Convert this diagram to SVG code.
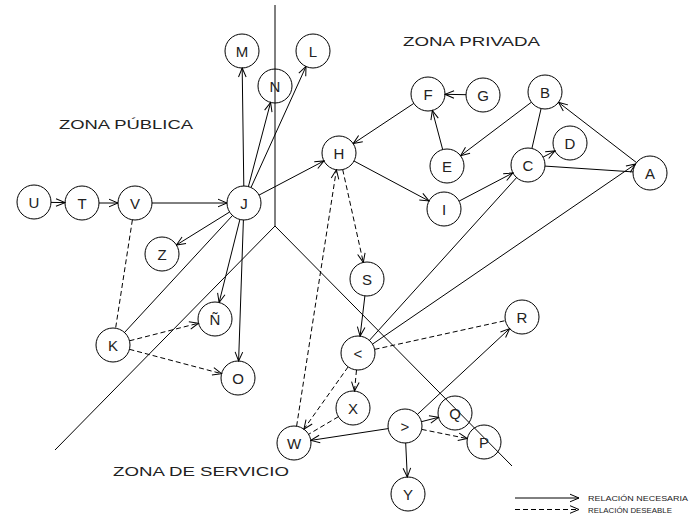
<svg xmlns="http://www.w3.org/2000/svg" width="691" height="517" viewBox="0 0 691 517">
<style>
.n circle{fill:none;stroke:#000;stroke-width:1}
.n text{font-family:"Liberation Sans",Arial,sans-serif;font-size:15px;fill:#222;text-anchor:middle}
.e line{stroke:#000;stroke-width:1;fill:none}
.e .d{stroke-dasharray:5,3}
.e .a{marker-end:url(#arr)}
.zone{stroke:#000;stroke-width:1;fill:none}
.z{font-family:"Liberation Sans",Arial,sans-serif;font-size:13px;fill:#222}
.lg{font-family:"Liberation Sans",Arial,sans-serif;font-size:8px;fill:#222}
</style>
<defs>
<marker id="arr" markerUnits="userSpaceOnUse" viewBox="-11 -6 12 12" markerWidth="12" markerHeight="12" refX="0" refY="0" orient="auto">
<path d="M-9,-3.8 L0,0 L-9,3.8" fill="none" stroke="#000" stroke-width="1" stroke-dasharray="none"/>
</marker>
</defs>
<rect width="691" height="517" fill="#fff"/>
<g id="zones">
<polyline class="zone" points="275,5 275,226 55,450"/>
<line class="zone" x1="275" y1="226" x2="512" y2="466"/>
<text class="z" x="403" y="46" textLength="137" lengthAdjust="spacingAndGlyphs">ZONA PRIVADA</text>
<text class="z" x="59" y="129" textLength="134" lengthAdjust="spacingAndGlyphs">ZONA PÚBLICA</text>
<text class="z" x="113" y="476" textLength="176" lengthAdjust="spacingAndGlyphs">ZONA DE SERVICIO</text>
</g>
<g id="connectors" class="e">
<line class="a" x1="51" y1="202.4" x2="65" y2="202.6"/>
<line class="a" x1="99" y1="203" x2="118" y2="203"/>
<line class="a" x1="152" y1="203" x2="227" y2="203"/>
<line class="a" x1="243.8" y1="186" x2="242.2" y2="68"/>
<line class="a" x1="248.4" y1="186.6" x2="270.6" y2="102.4"/>
<line class="a" x1="251" y1="187.5" x2="306" y2="66.5"/>
<line class="a" x1="259" y1="195.1" x2="324" y2="160.9"/>
<line class="a" x1="229.6" y1="212" x2="176.4" y2="245"/>
<line class="a" x1="239.9" y1="219.5" x2="219.1" y2="302.5"/>
<line class="a" x1="243.4" y1="220" x2="238.6" y2="361"/>
<line x1="232.5" y1="215.5" x2="124.5" y2="332.5"/>
<line class="d" x1="132.4" y1="219.8" x2="115.6" y2="328.2"/>
<line class="d a" x1="129.5" y1="340.8" x2="198.5" y2="323.2"/>
<line class="d a" x1="129.4" y1="349.3" x2="221.6" y2="373.7"/>
<line class="a" x1="413.8" y1="103.4" x2="353.2" y2="143.6"/>
<line class="a" x1="466" y1="94.7" x2="445" y2="94.3"/>
<line class="a" x1="442.7" y1="149.6" x2="432.3" y2="110.4"/>
<line class="a" x1="531.4" y1="102.2" x2="460.6" y2="155.7"/>
<line x1="541.1" y1="108.5" x2="531.9" y2="148.5"/>
<line class="a" x1="543.1" y1="157.1" x2="554.9" y2="150.9"/>
<line x1="545" y1="166.1" x2="633" y2="171.9"/>
<line class="a" x1="636.5" y1="162.6" x2="558.5" y2="102.4"/>
<line class="a" x1="354" y1="161" x2="429" y2="201"/>
<line class="a" x1="459.1" y1="201.1" x2="512.9" y2="172.9"/>
<line x1="369.4" y1="340.4" x2="516.6" y2="177.6"/>
<line class="a" x1="372.5" y1="344.1" x2="635.5" y2="164.1"/>
<line class="d a" x1="342.7" y1="169.6" x2="363.3" y2="262.4"/>
<line class="d a" x1="296.6" y1="426.2" x2="336.4" y2="169.8"/>
<line class="a" x1="364.9" y1="295.9" x2="360.1" y2="336.1"/>
<line class="d a" x1="356.5" y1="370" x2="354.5" y2="391"/>
<line class="d a" x1="348.1" y1="366.9" x2="303.9" y2="429.1"/>
<line class="d" x1="338.4" y1="416.7" x2="308.6" y2="434.3"/>
<line class="d" x1="374.6" y1="349.4" x2="505.4" y2="320.6"/>
<line class="a" x1="417.4" y1="414.4" x2="509.6" y2="328.6"/>
<line class="a" x1="421.4" y1="421.7" x2="438.6" y2="417.3"/>
<line class="d a" x1="421.7" y1="429.4" x2="467.3" y2="438.6"/>
<line class="a" x1="388.2" y1="428.6" x2="310.8" y2="440.4"/>
<line class="a" x1="405.7" y1="443" x2="407.3" y2="477"/>
</g>
<g id="node-M" class="n"><circle cx="242" cy="51" r="17"/><text x="242" y="56.5">M</text></g>
<g id="node-N" class="n"><circle cx="275" cy="86" r="17"/><text x="275" y="91.5">N</text></g>
<g id="node-L" class="n"><circle cx="313" cy="51" r="17"/><text x="313" y="56.5">L</text></g>
<g id="node-H" class="n"><circle cx="339" cy="153" r="17"/><text x="339" y="158.5">H</text></g>
<g id="node-J" class="n"><circle cx="244" cy="203" r="17"/><text x="244" y="208.5">J</text></g>
<g id="node-F" class="n"><circle cx="428" cy="94" r="17"/><text x="428" y="99.5">F</text></g>
<g id="node-G" class="n"><circle cx="483" cy="95" r="17"/><text x="483" y="100.5">G</text></g>
<g id="node-B" class="n"><circle cx="545" cy="92" r="17"/><text x="545" y="97.5">B</text></g>
<g id="node-E" class="n"><circle cx="447" cy="166" r="17"/><text x="447" y="171.5">E</text></g>
<g id="node-D" class="n"><circle cx="570" cy="143" r="17"/><text x="570" y="148.5">D</text></g>
<g id="node-C" class="n"><circle cx="528" cy="165" r="17"/><text x="528" y="170.5">C</text></g>
<g id="node-A" class="n"><circle cx="650" cy="173" r="17"/><text x="650" y="178.5">A</text></g>
<g id="node-I" class="n"><circle cx="444" cy="209" r="17"/><text x="444" y="214.5">I</text></g>
<g id="node-U" class="n"><circle cx="34" cy="202" r="17"/><text x="34" y="207.5">U</text></g>
<g id="node-T" class="n"><circle cx="82" cy="203" r="17"/><text x="82" y="208.5">T</text></g>
<g id="node-V" class="n"><circle cx="135" cy="203" r="17"/><text x="135" y="208.5">V</text></g>
<g id="node-Z" class="n"><circle cx="162" cy="254" r="17"/><text x="162" y="259.5">Z</text></g>
<g id="node-enye" class="n"><circle cx="215" cy="319" r="17"/><text x="215" y="324.5">Ñ</text></g>
<g id="node-K" class="n"><circle cx="113" cy="345" r="17"/><text x="113" y="350.5">K</text></g>
<g id="node-O" class="n"><circle cx="238" cy="378" r="17"/><text x="238" y="383.5">O</text></g>
<g id="node-S" class="n"><circle cx="367" cy="279" r="17"/><text x="367" y="284.5">S</text></g>
<g id="node-lt" class="n"><circle cx="358" cy="353" r="17"/><text x="358" y="358.5">&lt;</text></g>
<g id="node-R" class="n"><circle cx="522" cy="317" r="17"/><text x="522" y="322.5">R</text></g>
<g id="node-X" class="n"><circle cx="353" cy="408" r="17"/><text x="353" y="413.5">X</text></g>
<g id="node-W" class="n"><circle cx="294" cy="443" r="17"/><text x="294" y="448.5">W</text></g>
<g id="node-gt" class="n"><circle cx="405" cy="426" r="17"/><text x="405" y="431.5">&gt;</text></g>
<g id="node-Q" class="n"><circle cx="455" cy="413" r="17"/><text x="455" y="418.5">Q</text></g>
<g id="node-P" class="n"><circle cx="484" cy="442" r="17"/><text x="484" y="447.5">P</text></g>
<g id="node-Y" class="n"><circle cx="408" cy="494" r="17"/><text x="408" y="499.5">Y</text></g>
<g id="legend" class="e">
<line class="a" x1="515" y1="498" x2="579" y2="498"/>
<line class="d a" x1="515" y1="509.5" x2="579" y2="509.5"/>
<text class="lg" x="588" y="501" textLength="100" lengthAdjust="spacingAndGlyphs">RELACIÓN NECESARIA</text>
<text class="lg" x="588" y="512.5" textLength="84" lengthAdjust="spacingAndGlyphs">RELACIÓN DESEABLE</text>
</g>
</svg>
